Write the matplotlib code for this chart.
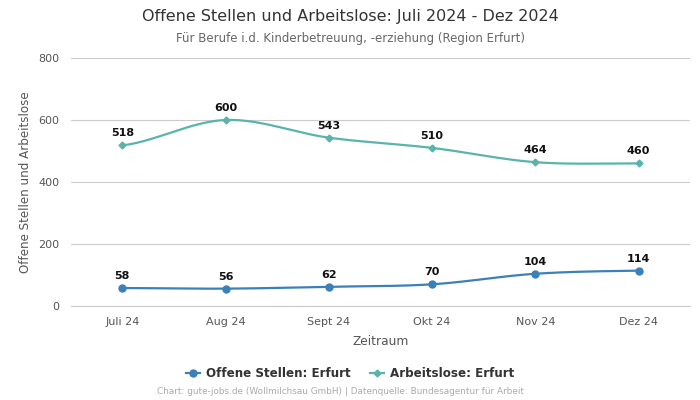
import numpy as np
import matplotlib.pyplot as plt

# data
months = ['Juli 24', 'Aug 24', 'Sept 24', 'Okt 24', 'Nov 24', 'Dez 24']
offene_stellen = [58, 56, 62, 70, 104, 114]
arbeitslose = [518, 600, 543, 510, 464, 460]

blue = '#3a80ba'
teal = '#5ab4ac'


def smooth(x, y, n=30):
	'''Cubic Hermite curve through the points (Catmull-Rom style tangents).'''
	x = np.asarray(x, float)
	y = np.asarray(y, float)
	m = np.zeros_like(y)
	m[1:-1] = (y[2:] - y[:-2]) / (x[2:] - x[:-2])
	m[0] = (y[1] - y[0]) / (x[1] - x[0]) * 0.5
	m[-1] = (y[-1] - y[-2]) / (x[-1] - x[-2]) * 0.5
	xs, ys = [], []
	for i in range(len(x) - 1):
		h = x[i+1] - x[i]
		t = np.linspace(0, 1, n)
		h00 = 2*t**3 - 3*t**2 + 1
		h10 = t**3 - 2*t**2 + t
		h01 = -2*t**3 + 3*t**2
		h11 = t**3 - t**2
		xs.append(x[i] + t*h)
		ys.append(h00*y[i] + h10*h*m[i] + h01*y[i+1] + h11*h*m[i+1])
	return np.concatenate(xs), np.concatenate(ys)


fig = plt.figure(figsize=(7, 4), dpi=100)
ax = fig.add_axes([0.101, 0.235, 0.885, 0.62])

x = np.arange(len(months))
for vals, color, marker, ms, label in [
		(offene_stellen, blue, 'o', 5, 'Offene Stellen: Erfurt'),
		(arbeitslose, teal, 'D', 3.5, 'Arbeitslose: Erfurt')]:
	sx, sy = smooth(x, vals)
	ax.plot(sx, sy, color=color, lw=1.6, zorder=3)
	ax.plot(x, vals, ls='none', marker=marker, ms=ms, color=color, zorder=4)
	ax.plot([], [], color=color, marker=marker, ms=ms, lw=1.6, label=label)
	for xi, v in zip(x, vals):
		ax.annotate(str(v), (xi, v), xytext=(0, 5), textcoords='offset points',
			ha='center', va='bottom', fontsize=8, fontweight='bold', color='#111111')

ax.set_xlim(-0.5, len(months) - 0.5)
ax.set_ylim(0, 800)
ax.set_yticks([0, 200, 400, 600, 800])
ax.set_xticks(x)
ax.set_xticklabels(months)
ax.tick_params(axis='both', length=0, labelsize=8, colors='#555555', pad=8)
ax.grid(axis='y', color='#cccccc', lw=0.8)
ax.set_axisbelow(True)
for side in ['left', 'right', 'top']:
	ax.spines[side].set_visible(False)
ax.spines['bottom'].set_color('#cccccc')

ax.set_xlabel('Zeitraum', fontsize=8.8, color='#555555', labelpad=6)
ax.set_ylabel('Offene Stellen und Arbeitslose', fontsize=8.6, color='#555555', labelpad=5)

fig.text(0.5, 0.958, 'Offene Stellen und Arbeitslose: Juli 2024 - Dez 2024',
	ha='center', va='center', fontsize=11.5, color='#333333')
fig.text(0.5, 0.903, 'Für Berufe i.d. Kinderbetreuung, -erziehung (Region Erfurt)',
	ha='center', va='center', fontsize=8.5, color='#666666')

leg = fig.legend(loc='center', bbox_to_anchor=(0.5, 0.067), ncol=2, frameon=False,
	prop={'weight': 'bold', 'size': 8.6}, handlelength=1.2, handletextpad=0.5,
	columnspacing=1.6)
for t in leg.get_texts():
	t.set_color('#333333')

fig.text(0.486, 0.02, 'Chart: gute-jobs.de (Wollmilchsau GmbH) | Datenquelle: Bundesagentur für Arbeit',
	ha='center', va='center', fontsize=6.4, color='#aaaaaa')

plt.savefig('out.png')
